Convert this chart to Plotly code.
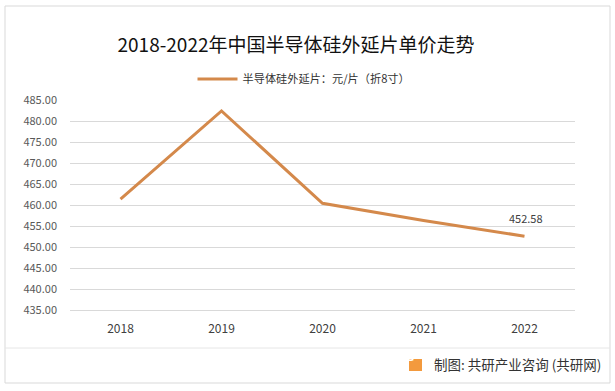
import plotly.graph_objects as go

years = ["2018", "2019", "2020", "2021", "2022"]
prices = [461.4, 482.4, 460.4, 456.3, 452.58]
y_ticks = [435, 440, 445, 450, 455, 460, 465, 470, 475, 480, 485]
series_name = "半导体硅外延片：元/片（折8寸）"
title_text = "2018-2022年中国半导体硅外延片单价走势"
source_text = "制图: 共研产业咨询 (共研网)"

FONT = "Noto Sans CJK SC, Microsoft YaHei, sans-serif"
LINE = "#D4894B"

W, H = 615, 391
l, r, t, b = 70, 40, 100, 81
pw, ph = W - l - r, H - t - b
def px(x):
    return (x - l) / pw
def py(y):
    return (H - b - y) / ph

fig = go.Figure()
fig.add_trace(go.Scatter(
    x=years, y=prices, mode="lines", name=series_name,
    line=dict(color=LINE, width=3),
))
fig.add_annotation(x=len(years) - 1, y=prices[-1], text=f"{prices[-1]:.2f}", showarrow=False,
                   yshift=18, xshift=1, font=dict(size=11, color="#404040", family=FONT))

fig.update_layout(
    width=W, height=H,
    margin=dict(l=l, r=r, t=t, b=b, autoexpand=False),
    paper_bgcolor="white", plot_bgcolor="white",
    font=dict(family=FONT, color="#595959"),
    title=dict(text=title_text, x=296 / W, xanchor="center", y=1 - 45 / H, yanchor="middle",
               font=dict(size=19, color="#111111", family=FONT)),
    showlegend=True,
    legend=dict(orientation="h", x=px(304), xanchor="center", y=py(79), yanchor="middle",
                font=dict(size=11.2, color="#333333", family=FONT), itemwidth=40),
    xaxis=dict(type="category", range=[-0.5, 4.5], showgrid=False, showline=True,
               linecolor="#D9D9D9", ticks="", tickfont=dict(size=12, color="#404040"),
               ticklabelstandoff=8),
    yaxis=dict(range=[435, 485], tickvals=y_ticks, tickformat=".2f",
               showgrid=True, gridcolor="#D9D9D9", gridwidth=1, zeroline=False,
               showline=False, ticks="", tickfont=dict(size=11, color="#595959"),
               ticklabelstandoff=12),
)

fig.add_shape(type="rect", xref="paper", yref="paper",
              x0=px(5), x1=px(610), y0=py(383), y1=py(6),
              line=dict(color="#D9D9D9", width=1))
fig.add_shape(type="line", xref="paper", yref="paper",
              x0=px(5), x1=px(610), y0=py(348), y1=py(348),
              line=dict(color="#E6E6E6", width=1))
# footer logo
fig.add_shape(type="rect", xref="paper", yref="paper", layer="below",
              x0=px(409), x1=px(422), y0=py(371), y1=py(359),
              line=dict(width=0), fillcolor="#F39A3E")
fig.add_annotation(xref="paper", yref="paper", x=px(415.5), y=py(365),
                   text="<b>G</b>", showarrow=False,
                   font=dict(size=10, color="white", family="DejaVu Sans"))
fig.add_annotation(xref="paper", yref="paper", x=px(603), y=py(364),
                   xanchor="right", yanchor="middle", text=source_text, showarrow=False,
                   font=dict(size=13.5, color="#333333", family=FONT))

fig.write_html("out.html", config={"displayModeBar": False},
               post_script="document.body.style.margin='0';document.body.style.overflow='hidden';")
